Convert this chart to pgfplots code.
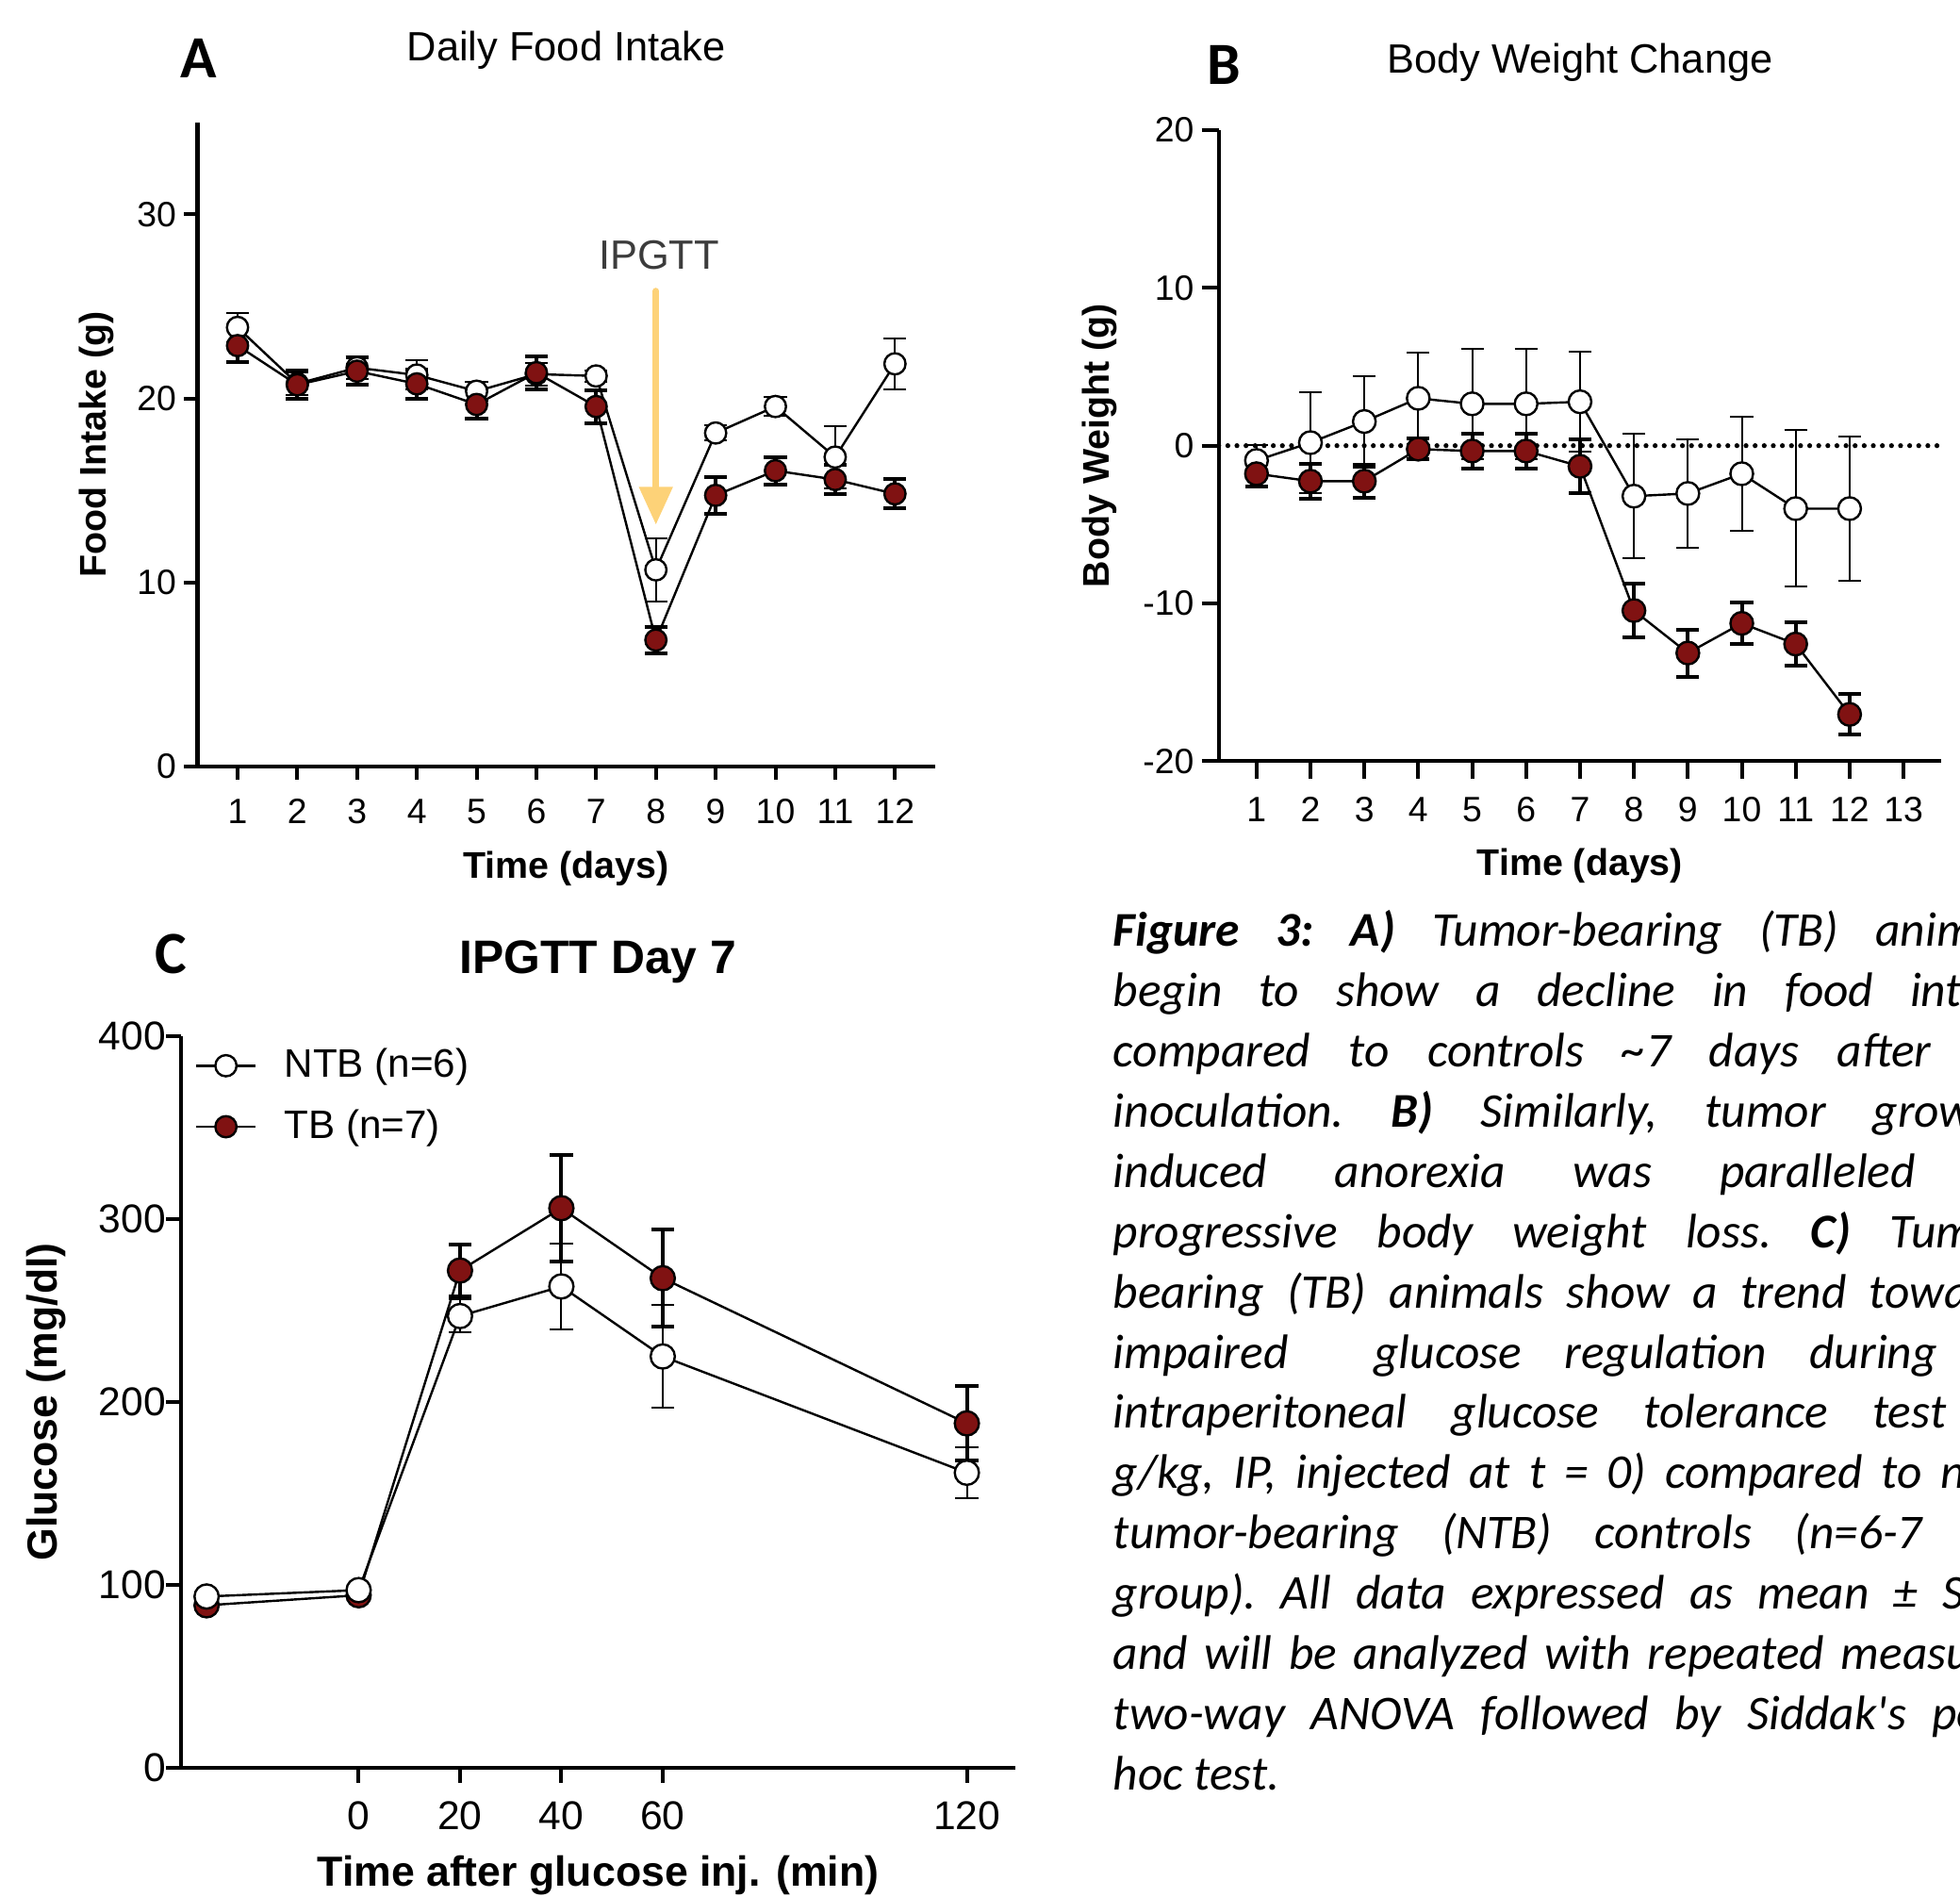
\documentclass[border=0pt]{standalone}
\usepackage{pgfplots}
\pgfplotsset{compat=1.18}
\usepackage{pgfplotstable}
\usepackage{fontspec}
\setmainfont{Liberation Sans}
\newfontfamily\calibri{Carlito}
\usetikzlibrary{arrows.meta}
\definecolor{tbred}{RGB}{128,18,18}
\definecolor{arrowc}{RGB}{253,210,120}
\definecolor{ipg}{RGB}{60,60,60}

\pgfplotstableread{
d m e
1 23.86 0.8
2 20.80 0.6
3 21.67 0.6
4 21.27 0.8
5 20.39 0.5
6 21.32 0.6
7 21.22 0.3
8 10.68 1.7
9 18.12 0.4
10 19.56 0.5
11 16.81 1.7
12 21.88 1.4
}\foodNTB
\pgfplotstableread{
d m e
1 22.87 0.9
2 20.74 0.75
3 21.48 0.75
4 20.79 0.8
5 19.67 0.75
6 21.40 0.9
7 19.56 0.9
8 6.86 0.7
9 14.73 1.0
10 16.07 0.75
11 15.59 0.8
12 14.81 0.8
}\foodTB
\pgfplotstableread{
d m e
1 -0.94 1.0
2 0.19 3.2
3 1.53 2.9
4 3.00 2.9
5 2.65 3.5
6 2.65 3.5
7 2.78 3.15
8 -3.20 3.95
9 -3.03 3.45
10 -1.78 3.6
11 -3.99 4.96
12 -3.99 4.55
}\bwNTB
\pgfplotstableread{
d m e
1 -1.78 0.8
2 -2.25 1.1
3 -2.25 1.05
4 -0.22 0.65
5 -0.34 1.1
6 -0.34 1.1
7 -1.31 1.7
8 -10.45 1.7
9 -13.14 1.5
10 -11.26 1.3
11 -12.57 1.35
12 -17.03 1.3
}\bwTB
\pgfplotstableread{
t m e
-30 93.6 2
0 97.1 2
20 247.0 9
40 263.2 23.5
60 224.9 28
120 161.3 14
}\gluNTB
\pgfplotstableread{
t m e
-30 88.8 2
0 94.3 2
20 271.9 14
40 306.0 29
60 267.7 26.5
120 188.3 20.5
}\gluTB

\pgfplotsset{
  gp/.style={
    scale only axis,
    axis lines=left,
    axis line style={line width=1pt,-},
    every tick/.style={line width=1pt,black},
    tick align=outside,
    major tick length=4pt,
    /pgf/number format/assume math mode=true,
    clip=false,
    label style={font=\fontsize{9.8}{12}\selectfont\bfseries},
    tick label style={font=\fontsize{9.3}{11}\selectfont},
    xticklabel style={yshift=-1.5pt},
    yticklabel style={xshift=1.5pt},
  },
  ntb/.style={
    black, line width=0.6pt, mark=*, mark size=#1,
    mark options={fill=white, draw=black, line width=0.6pt, solid},
    error bars/.cd, y dir=both, y explicit,
    error bar style={line width=0.5pt, black, solid},
    error mark options={rotate=90, line width=0.5pt, black, mark size=3pt},
    /pgfplots/.cd,
  },
  tb/.style={
    black, line width=0.6pt, mark=*, mark size=#1,
    mark options={fill=tbred, draw=black, line width=0.6pt, solid},
    error bars/.cd, y dir=both, y explicit,
    error bar style={line width=1pt, black, solid},
    error mark options={rotate=90, line width=1pt, black, mark size=3pt},
    /pgfplots/.cd,
  },
}

\newcommand{\capfont}{\calibri\itshape\fontsize{12.8}{15.9}\selectfont\frenchspacing}
\newcommand{\capline}[2]{\node[anchor=base west, inner sep=0pt] at (890,{760-48.2*#1}) {\capfont\makebox[242pt][s]{#2}};}

\begin{document}
\begin{tikzpicture}[x=0.33pt,y=0.33pt]
\useasboundingbox (0,0) rectangle (1568,1517);
\clip (0,0) rectangle (1568,1517);
\coordinate (pA) at (158,904);
\coordinate (pB) at (975,908);
\coordinate (pC) at (145,103);

% ---------------- Panel A ----------------
\node[font=\calibri\bfseries\fontsize{15.8}{18}\selectfont, inner sep=0pt] at (159,1470) {A};
\node[font=\fontsize{10.8}{13}\selectfont, anchor=base, inner sep=0pt] at (453,1468.5) {Daily Food Intake};
\begin{axis}[gp, at={(pA)}, anchor=south west,
  width=194.7pt, height=169.95pt,
  xmin=0.33, xmax=12.67, ymin=0, ymax=35,
  xtick={1,2,3,4,5,6,7,8,9,10,11,12}, ytick={0,10,20,30},
  major tick length=3.6pt,
  xlabel={Time (days)}, ylabel={Food Intake (g)},
  xlabel style={at={(axis description cs:0.5,-0.159)}, anchor=center},
  ylabel style={at={(axis description cs:-0.137,0.5)}, anchor=center},
]
\addplot[ntb=2.8pt] table[x=d, y=m, y error=e] {\foodNTB};
\addplot[tb=2.8pt] table[x=d, y=m, y error=e] {\foodTB};
\draw[arrowc, line width=1.8pt, line cap=round, -{Triangle[width=8.5pt,length=10pt]}] (axis cs:8,25.83) -- (axis cs:8,13.13);
\node[ipg, font=\fontsize{10.8}{13}\selectfont] at (axis cs:8.05,27.8) {IPGTT};
\end{axis}

% ---------------- Panel B ----------------
\node[font=\calibri\bfseries\fontsize{15.8}{18}\selectfont, inner sep=0pt] at (979,1465) {B};
\node[font=\fontsize{10.8}{13}\selectfont, anchor=base, inner sep=0pt] at (1264,1458.5) {Body Weight Change};
\begin{axis}[gp, at={(pB)}, anchor=south west,
  width=190.74pt, height=166.65pt,
  xmin=0.3, xmax=13.7, ymin=-20, ymax=20,
  xtick={1,2,3,4,5,6,7,8,9,10,11,12,13},
  ytick={-20,-10,0,10,20}, yticklabels={-20,-10,0,10,20},
  major tick length=4.5pt,
  xlabel={Time (days)}, ylabel={Body Weight (g)},
  xlabel style={at={(axis description cs:0.5,-0.166)}, anchor=center},
  ylabel style={at={(axis description cs:-0.1644,0.5)}, anchor=center},
]
\addplot[black, line width=1.3pt, line cap=round, dash pattern=on 0pt off 2.4pt] coordinates {(0.3,0) (13.7,0)};
\addplot[ntb=3pt] table[x=d, y=m, y error=e] {\bwNTB};
\addplot[tb=3pt] table[x=d, y=m, y error=e] {\bwTB};
\end{axis}

% ---------------- Panel C ----------------
\node[font=\calibri\bfseries\fontsize{15.8}{18}\selectfont, inner sep=0pt] at (137,753.5) {C};
\node[font=\fontsize{12.4}{15}\selectfont\bfseries, anchor=base, inner sep=0pt] at (478.5,738.5) {IPGTT Day 7};
\begin{axis}[gp, at={(pC)}, anchor=south west,
  width=220.11pt, height=193.05pt,
  xmin=-35, xmax=129.5, ymin=0, ymax=400,
  xtick={0,20,40,60,120}, ytick={0,100,200,300,400},
  major tick length=4pt,
  tick label style={font=\fontsize{10.6}{12}\selectfont},
  xticklabel style={yshift=0pt},
  yticklabel style={xshift=2pt},
  label style={font=\fontsize{11.1}{13}\selectfont\bfseries},
  xlabel={Time after glucose inj. (min)}, ylabel={Glucose (mg/dl)},
  xlabel style={at={(axis description cs:0.5,-0.1470)}, anchor=center},
  ylabel style={at={(axis description cs:-0.162,0.5)}, anchor=center},
  legend style={draw=none, fill=none, at={(axis description cs:0.0,1.0)}, anchor=north west,
    font=\fontsize{10.5}{12}\selectfont, row sep=3pt, inner sep=1pt},
  legend cell align=left,
  legend image code/.code={\draw[#1, mark repeat=2, mark phase=2] plot coordinates {(2.4pt,0pt) (10.3pt,0pt) (18.2pt,0pt)}; \path (0pt,0pt) (23.4pt,0pt);},
]
\addlegendimage{black, line width=0.6pt, mark=*, mark size=2.8pt, mark options={fill=white, draw=black, line width=0.6pt}}
\addlegendentry{NTB (n=6)}
\addlegendimage{black, line width=0.6pt, mark=*, mark size=2.8pt, mark options={fill=tbred, draw=black, line width=0.6pt}}
\addlegendentry{TB (n=7)}
\addplot[forget plot, tb=3.2pt] table[x=t, y=m, y error=e] {\gluTB};
\addplot[forget plot, ntb=3.2pt] table[x=t, y=m, y error=e] {\gluNTB};
\end{axis}

% ---------------- Caption ----------------
\capline{0}{\textbf{Figure 3: A)} Tumor-bearing (TB) animals}
\capline{1}{begin to show a decline in food intake}
\capline{2}{compared to controls \textasciitilde7 days after \makebox[16pt][l]{tumor}}
\capline{3}{inoculation. \textbf{B)} Similarly, tumor growth-}
\capline{4}{induced anorexia was paralleled by}
\capline{5}{progressive body weight loss. \textbf{C)} Tumor-}
\capline{6}{bearing (TB) animals show a trend towards}
\capline{7}{impaired\ \ glucose regulation during an}
\capline{8}{intraperitoneal glucose tolerance test (2}
\capline{9}{g/kg, IP, injected at t = 0) compared to non-}
\capline{10}{tumor-bearing (NTB) controls (n=6-7 per}
\capline{11}{group). All data expressed as mean ± SEM}
\capline{12}{and will be analyzed with repeated measures}
\capline{13}{two-way ANOVA followed by Siddak\textquotesingle s post-}
\node[anchor=base west, inner sep=0pt] at (890,{760-48.2*14}) {\capfont hoc test.};
\end{tikzpicture}
\end{document}
